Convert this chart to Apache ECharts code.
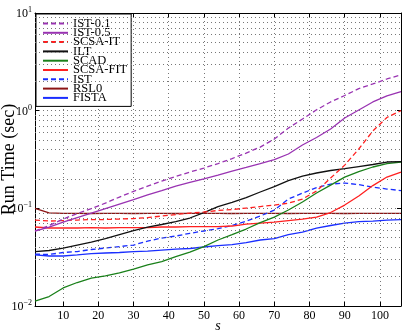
<!DOCTYPE html>
<html>
<head>
<meta charset="utf-8">
<script src="https://cdn.jsdelivr.net/npm/echarts@6/dist/echarts.min.js"></script>
<style>
  html, body { margin: 0; padding: 0; background: #fff; }
  #main { width: 407px; height: 331px; }
</style>
</head>
<body>
<div id="main"></div>
<script>
// sparsity level s (x axis)
var sVals = [2, 6, 10, 14, 18, 22, 26, 30, 34, 38, 42, 46, 50, 54, 58, 62, 66, 70, 74, 78, 82, 86, 90, 94, 98, 102, 106];

// run time (sec) per algorithm
var ist01 = [0.0586, 0.0667, 0.0777, 0.0885, 0.0995, 0.113, 0.1305, 0.149, 0.169, 0.190, 0.212, 0.235, 0.2585, 0.287, 0.3235, 0.368, 0.424, 0.512, 0.663, 0.821, 1.02, 1.228, 1.43, 1.68, 1.877, 2.11, 2.32];
var ist05 = [0.0586, 0.0643, 0.0724, 0.0805, 0.0895, 0.0995, 0.1107, 0.123, 0.137, 0.152, 0.169, 0.184, 0.200, 0.219, 0.241, 0.262, 0.287, 0.315, 0.36, 0.445, 0.531, 0.649, 0.8405, 1.017, 1.228, 1.414, 1.565];
var scsaIt = [0.0759, 0.0741, 0.075, 0.0759, 0.0768, 0.0768, 0.0777, 0.0786, 0.0805, 0.0834, 0.0864, 0.0895, 0.0917, 0.095, 0.0972, 0.1007, 0.1043, 0.108, 0.113, 0.1245, 0.1504, 0.204, 0.277, 0.405, 0.62, 0.852, 1.0];
var ilt = [0.0361, 0.0370, 0.0392, 0.0421, 0.0452, 0.0490, 0.0539, 0.0592, 0.0643, 0.0683, 0.0732, 0.0796, 0.0905, 0.104, 0.115, 0.129, 0.147, 0.167, 0.1925, 0.214, 0.230, 0.244, 0.2555, 0.268, 0.281, 0.298, 0.301];
var scad = [0.01124, 0.0125, 0.0153, 0.0174, 0.0193, 0.0203, 0.0218, 0.0239, 0.0263, 0.0285, 0.0321, 0.0357, 0.0406, 0.0474, 0.0539, 0.0614, 0.0715, 0.0814, 0.0961, 0.116, 0.1434, 0.173, 0.209, 0.238, 0.265, 0.287, 0.298];
var scsaFit = [0.0644, 0.0629, 0.0629, 0.0629, 0.0636, 0.0629, 0.0636, 0.0636, 0.0636, 0.0644, 0.0644, 0.0651, 0.0651, 0.065, 0.0659, 0.069, 0.0707, 0.0724, 0.075, 0.0777, 0.0814, 0.0906, 0.108, 0.1337, 0.171, 0.209, 0.235];
var ist = [0.034, 0.0337, 0.0353, 0.0361, 0.0379, 0.0392, 0.0406, 0.0421, 0.0462, 0.0496, 0.052, 0.0555, 0.0586, 0.062, 0.0667, 0.0738, 0.0834, 0.096, 0.1245, 0.143, 0.163, 0.177, 0.1816, 0.175, 0.165, 0.1576, 0.152];
var rsl0 = [0.1, 0.09, 0.089, 0.089, 0.0885, 0.089, 0.089, 0.0885, 0.089, 0.089, 0.0885, 0.089, 0.089, 0.089, 0.0885, 0.089, 0.089, 0.089, 0.0885, 0.089, 0.089, 0.089, 0.0885, 0.089, 0.089, 0.089, 0.089];
var fista = [0.0333, 0.0325, 0.0325, 0.0333, 0.0344, 0.0349, 0.0353, 0.0361, 0.0365, 0.0374, 0.0383, 0.0388, 0.0402, 0.0416, 0.0426, 0.0446, 0.0474, 0.049, 0.0539, 0.0572, 0.0628, 0.0667, 0.0707, 0.0732, 0.0741, 0.0759, 0.0768];

// ticks
var xTicks = [10, 20, 30, 40, 50, 60, 70, 80, 90, 100];
var yMinor = [0.02, 0.03, 0.04, 0.05, 0.06, 0.07, 0.08, 0.09,
              0.2, 0.3, 0.4, 0.5, 0.6, 0.7, 0.8, 0.9,
              2, 3, 4, 5, 6, 7, 8, 9];

var serif = "'Liberation Serif', 'DejaVu Serif', serif";
var gridDot = { color: '#777', width: 1, type: [1, 3] };

/* series list: name, data, colour, dashed */
var lines = [
    ['IST-0.1', ist01, '#9933b2', true],
    ['IST-0.5', ist05, '#9933b2', false],
    ['SCSA-IT', scsaIt, '#ff2020', true],
    ['ILT', ilt, '#111111', false],
    ['SCAD', scad, '#1a801a', false],
    ['SCSA-FIT', scsaFit, '#ff2020', false],
    ['IST', ist, '#1a2eff', true],
    ['RSL0', rsl0, '#8c1414', false],
    ['FISTA', fista, '#1a2eff', false]
];

function pairs(arr) {
    var out = [];
    for (var i = 0; i < sVals.length; i++) {
        out.push([sVals[i], arr[i]]);
    }
    return out;
}

var seriesList = [];
var names = [];

// minor log grid lines (2..9 in each decade)
var minorLines = [];
for (var m = 0; m < yMinor.length; m++) {
    minorLines.push({ yAxis: yMinor[m] });
}
seriesList.push({
    name: 'grid',
    type: 'line',
    data: [],
    silent: true,
    z: 1,
    markLine: {
        silent: true,
        symbol: ['none', 'none'],
        label: { show: false },
        lineStyle: gridDot,
        data: minorLines
    }
});

for (var i = 0; i < lines.length; i++) {
    names.push(lines[i][0]);
    seriesList.push({
        name: lines[i][0],
        type: 'line',
        data: pairs(lines[i][1]),
        symbol: 'none',
        showSymbol: false,
        xAxisIndex: 0,
        yAxisIndex: 0,
        lineStyle: {
            color: lines[i][2],
            width: 1.3,
            type: lines[i][3] ? [5, 3] : 'solid'
        },
        itemStyle: { color: lines[i][2] },
        z: 10 - i
    });
}

function expLabel(v) {
    var e = Math.round(Math.log(v) / Math.LN10);
    var t = e < 0 ? '\u2212' + (-e) : '' + e;
    return '{b|10}{e|' + t + '}';
}

var chart = echarts.init(document.getElementById('main'));
var option = {
    animation: false,
    backgroundColor: '#fff',
    grid: { left: 35, right: 6, top: 13, bottom: 25, containLabel: false, outerBoundsMode: 'none' },
    legend: {
        orient: 'vertical',
        left: 36,
        top: 14,
        backgroundColor: '#fff',
        borderColor: '#000',
        borderWidth: 1,
        borderRadius: 0,
        padding: [3, 4, 2, 6],
        itemWidth: 25,
        itemHeight: 9,
        itemGap: -3.7,
        itemStyle: { opacity: 0 },
        formatter: '{n|{name}}',
        textStyle: {
            fontFamily: serif, fontSize: 12.5, color: '#000',
            rich: { n: { fontFamily: serif, fontSize: 12.5, color: '#000', lineHeight: 9.4 } }
        },
        data: names
    },
    xAxis: [
        {
            type: 'value', min: 2, max: 106, position: 'bottom',
            name: 's', nameLocation: 'middle', nameGap: 13, nameMoveOverlap: false,
            nameTextStyle: { fontFamily: serif, fontStyle: 'italic', fontSize: 14, color: '#000' },
            axisLine: { show: true, lineStyle: { color: '#000', width: 1 } },
            axisTick: { show: true, inside: true, length: 4, customValues: xTicks, lineStyle: { color: '#000' } },
            axisLabel: { customValues: xTicks, fontFamily: serif, fontSize: 12, color: '#000', margin: 4 },
            splitLine: { show: true, lineStyle: gridDot }
        },
        {
            type: 'value', min: 2, max: 106, position: 'top',
            axisLine: { show: true, lineStyle: { color: '#000', width: 1 } },
            axisTick: { show: true, inside: true, length: 4, customValues: xTicks, lineStyle: { color: '#000' } },
            axisLabel: { show: false },
            splitLine: { show: false }
        }
    ],
    yAxis: [
        {
            type: 'log', logBase: 10, min: 0.01, max: 10, position: 'left',
            name: 'Run Time (sec)', nameLocation: 'middle', nameGap: 17, nameMoveOverlap: false,
            nameTextStyle: { fontFamily: serif, fontSize: 18, color: '#000' },
            axisLine: { show: true, lineStyle: { color: '#000', width: 1 } },
            axisTick: { show: true, inside: true, length: 4, lineStyle: { color: '#000' } },
            axisLabel: {
                margin: 3,
                formatter: expLabel,
                rich: {
                    b: { fontFamily: serif, fontSize: 12, color: '#000', lineHeight: 14, verticalAlign: 'bottom' },
                    e: { fontFamily: serif, fontSize: 8, color: '#000', lineHeight: 14, verticalAlign: 'top' }
                }
            },
            splitLine: { show: true, lineStyle: gridDot }
        },
        {
            type: 'log', logBase: 10, min: 0.01, max: 10, position: 'right',
            axisLine: { show: true, lineStyle: { color: '#000', width: 1 } },
            axisTick: { show: true, inside: true, length: 4, lineStyle: { color: '#000' } },
            axisLabel: { show: false },
            splitLine: { show: false }
        }
    ],
    series: seriesList
};
chart.setOption(option);
</script>
</body>
</html>
